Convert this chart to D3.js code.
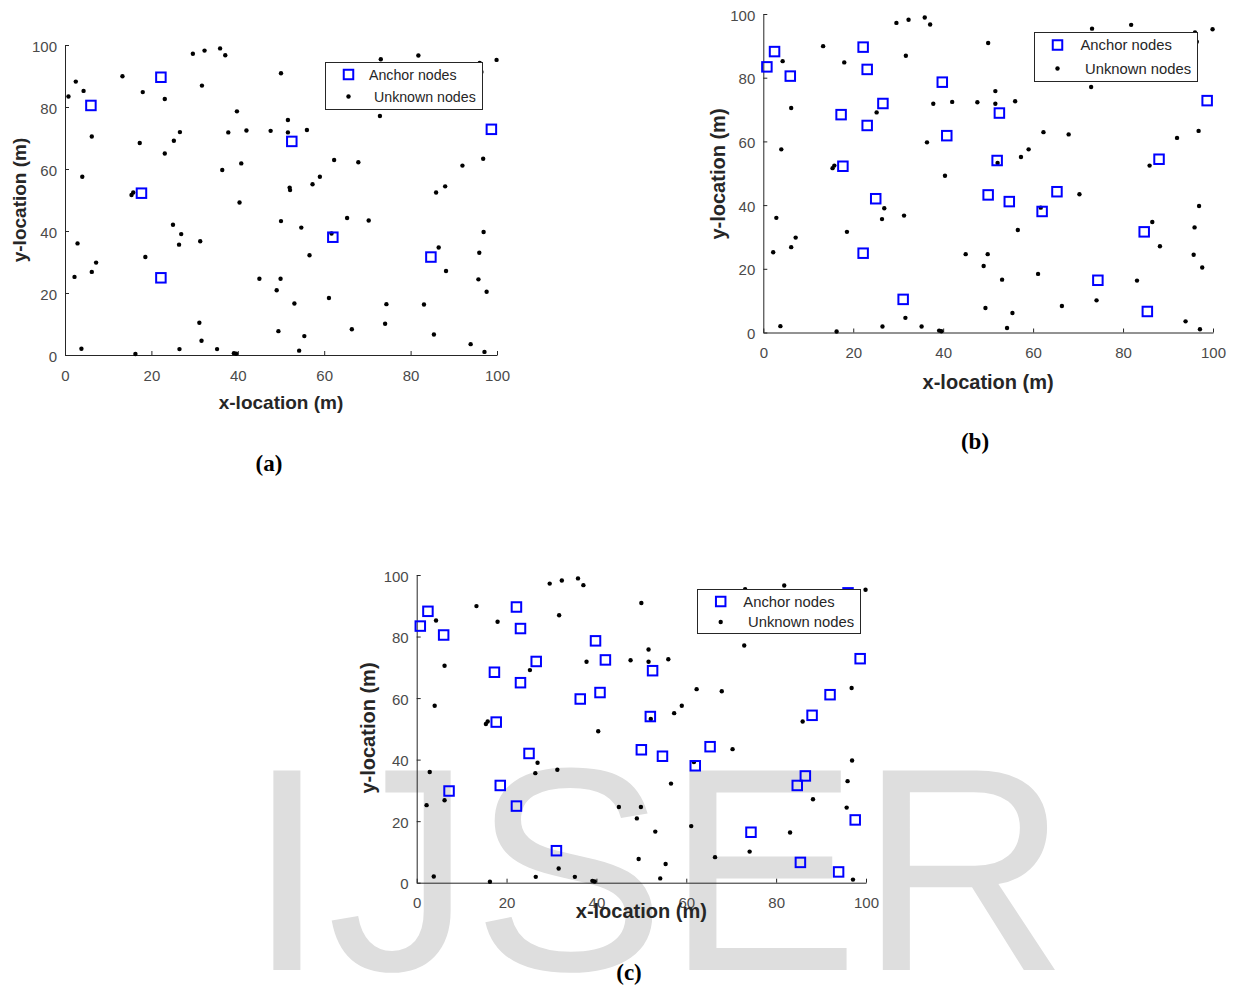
<!DOCTYPE html>
<html>
<head>
<meta charset="utf-8">
<script src="https://cdn.jsdelivr.net/npm/d3@7"></script>
<style>
  html, body { margin: 0; padding: 0; background: #ffffff; }
  svg { display: block; }
</style>
</head>
<body>
<svg id="fig" width="1233" height="989"></svg>
<script>
// Node positions in metres, [x, y].
// Anchors present in every deployment.
const baseAnchors = [
  [6.0, 80.5], [22.2, 89.6], [17.7, 52.2], [22.2, 24.9],
  [52.5, 68.9], [62.0, 38.0], [84.7, 31.6], [98.7, 72.8]
];
// Nodes promoted to anchors from deployment (b) onward.
const addedAnchorsB = [
  [0.8, 83.4], [2.5, 88.2], [23.1, 82.6], [26.6, 71.9], [17.3, 68.4],
  [23.1, 65.0], [39.8, 78.6], [40.8, 61.8], [25.0, 42.0], [31.1, 10.4],
  [52.0, 54.0], [50.0, 43.2], [54.7, 41.1], [65.3, 44.2], [88.0, 54.4],
  [74.4, 16.4], [85.4, 6.6]
];
// Nodes promoted to anchors only in deployment (c).
const addedAnchorsC = [
  [42.0, 72.4], [36.4, 59.7], [18.6, 31.6], [7.2, 29.8], [92.0, 61.1],
  [86.5, 34.7], [93.9, 3.5], [97.6, 20.4], [96.0, 94.2]
];
// Nodes that stay unknown in all deployments.
const unknownNodes = [
  [4.3, 85.2], [6.2, 70.5], [4.0, 57.5], [2.9, 36.0], [2.2, 25.2],
  [6.2, 26.8], [3.8, 2.0], [13.3, 89.9], [18.0, 84.8], [15.4, 51.6],
  [15.8, 52.4], [16.3, 0.3], [25.2, 69.1], [26.9, 39.0], [26.4, 35.6],
  [26.5, 1.9], [29.6, 97.2], [32.3, 98.2], [35.9, 98.9], [37.1, 96.7],
  [31.7, 86.9], [31.3, 36.7], [31.6, 4.6], [35.2, 1.9], [39.1, 0.6],
  [39.6, 0.4], [37.8, 71.8], [40.4, 49.2], [45.0, 24.6],
  [50.0, 90.9], [73.1, 95.4], [81.8, 96.6], [99.9, 95.2], [96.4, 91.3],
  [72.9, 77.1], [51.6, 75.8], [47.6, 72.3], [51.6, 71.8], [56.0, 72.6],
  [62.3, 62.9], [67.9, 62.2], [59.0, 57.5], [57.3, 55.1], [52.1, 53.2],
  [70.3, 43.4], [61.7, 39.2], [56.6, 32.2], [49.9, 24.6], [49.0, 20.9],
  [53.1, 16.6], [61.1, 18.4], [83.1, 16.3], [74.1, 10.1], [66.4, 8.3],
  [49.4, 7.7], [55.4, 6.1], [54.2, 1.4], [97.1, 1.0], [96.8, 63.3],
  [85.9, 52.4], [96.9, 39.7], [88.2, 27.1], [95.9, 33.0], [95.7, 24.4]
];

const xTicks = [0, 20, 40, 60, 80, 100];
const yTicks = [0, 20, 40, 60, 80, 100];
const legendLabels = ["Anchor nodes", "Unknown nodes"];
const panelCaptions = ["(a)", "(b)", "(c)"];
const xAxisTitle = "x-location (m)";
const yAxisTitle = "y-location (m)";
const watermarkText = "IJSER";

// Anchor / unknown sets for each deployment.
const panelData = [
  { anchors: baseAnchors,
    unknown: [...addedAnchorsB, ...addedAnchorsC, ...unknownNodes] },
  { anchors: [...baseAnchors, ...addedAnchorsB],
    unknown: [...addedAnchorsC, ...unknownNodes] },
  { anchors: [...baseAnchors, ...addedAnchorsB, ...addedAnchorsC],
    unknown: unknownNodes }
];

// Page layout of each sub-plot.
const layout = [
  { left: 65, right: 497, bottom: 355, top: 45, xTitleSize: 19,
    xTitleY: 409, yTitleX: 26, yTitleCy: 200,
    legend: { x: 325, y: 62, w: 157, h: 47, icon: 348.5, t1: 369, t2: 374, r1: 74.5, r2: 96.5, fs: 14.2 },
    caption: { x: 269, y: 471 } },
  { left: 763.3, right: 1213, bottom: 332.5, top: 14, xTitleSize: 20,
    xTitleY: 389, yTitleX: 725, yTitleCy: 174,
    legend: { x: 1034, y: 32, w: 163, h: 49, icon: 1057.5, t1: 1080.5, t2: 1085, r1: 45, r2: 68.5, fs: 14.8 },
    caption: { x: 975, y: 449 } },
  { left: 416.7, right: 866, bottom: 882.7, top: 575, xTitleSize: 20,
    xTitleY: 918, yTitleX: 375, yTitleCy: 728,
    legend: { x: 697, y: 589, w: 163, h: 44, icon: 720.7, t1: 743.3, t2: 748, r1: 601.5, r2: 622, fs: 14.8 },
    caption: { x: 629, y: 980 } }
];

const AXIS_COLOR = "#262626";
const TICK_TEXT = "#4a4a4a";
const ANCHOR_BLUE = "#0000ff";
const SANS = "'Liberation Sans', Arial, sans-serif";

const svg = d3.select("#fig");

// Light background lettering behind the last sub-plot.
svg.append("text")
  .attr("x", 246.6)
  .attr("y", 970)
  .attr("font-family", SANS)
  .attr("font-size", 290)
  .attr("fill", "#dedede")
  .text(watermarkText);

const SQ = 9.5;  // anchor marker side

panelData.forEach((pd, i) => {
  const L = layout[i];
  const x = d3.scaleLinear().domain([0, 100]).range([L.left, L.right]);
  const y = d3.scaleLinear().domain([0, 100]).range([L.bottom, L.top]);
  const g = svg.append("g");

  // Axes with inward ticks
  const xAxis = d3.axisBottom(x).tickValues(xTicks).tickSizeInner(-4).tickSizeOuter(0).tickPadding(15);
  const yAxis = d3.axisLeft(y).tickValues(yTicks).tickSizeInner(-4).tickSizeOuter(0).tickPadding(8);

  const gx = g.append("g").attr("transform", `translate(0,${L.bottom})`).call(xAxis);
  const gy = g.append("g").attr("transform", `translate(${L.left},0)`).call(yAxis);
  [gx, gy].forEach(ax => {
    ax.select(".domain").attr("stroke", AXIS_COLOR).attr("stroke-width", 1);
    ax.selectAll(".tick line").attr("stroke", AXIS_COLOR).attr("stroke-width", 1);
    ax.selectAll(".tick text")
      .attr("fill", TICK_TEXT)
      .attr("font-family", SANS)
      .attr("font-size", 15);
  });
  gy.selectAll(".tick text").attr("dy", "0.4em");

  // Unknown nodes
  g.append("g").selectAll("circle")
    .data(pd.unknown)
    .join("circle")
    .attr("cx", d => x(d[0]))
    .attr("cy", d => y(d[1]))
    .attr("r", 2.2)
    .attr("fill", "#000000");

  // Anchor nodes
  g.append("g").selectAll("rect")
    .data(pd.anchors)
    .join("rect")
    .attr("x", d => x(d[0]) - SQ / 2)
    .attr("y", d => y(d[1]) - SQ / 2)
    .attr("width", SQ)
    .attr("height", SQ)
    .attr("fill", "none")
    .attr("stroke", ANCHOR_BLUE)
    .attr("stroke-width", 2);

  // Axis titles
  g.append("text")
    .attr("x", (L.left + L.right) / 2)
    .attr("y", L.xTitleY)
    .attr("text-anchor", "middle")
    .attr("font-family", SANS)
    .attr("font-weight", "bold")
    .attr("font-size", L.xTitleSize)
    .attr("fill", AXIS_COLOR)
    .text(xAxisTitle);

  g.append("text")
    .attr("transform", `translate(${L.yTitleX},${L.yTitleCy}) rotate(-90)`)
    .attr("text-anchor", "middle")
    .attr("font-family", SANS)
    .attr("font-weight", "bold")
    .attr("font-size", L.xTitleSize)
    .attr("fill", AXIS_COLOR)
    .text(yAxisTitle);

  // Legend
  const lg = L.legend;
  const leg = g.append("g");
  leg.append("rect")
    .attr("x", lg.x + 0.5).attr("y", lg.y + 0.5)
    .attr("width", lg.w).attr("height", lg.h)
    .attr("fill", "#ffffff")
    .attr("stroke", AXIS_COLOR)
    .attr("stroke-width", 1);
  leg.append("rect")
    .attr("x", lg.icon - SQ / 2).attr("y", lg.r1 - SQ / 2)
    .attr("width", SQ).attr("height", SQ)
    .attr("fill", "none").attr("stroke", ANCHOR_BLUE).attr("stroke-width", 2);
  leg.append("circle")
    .attr("cx", lg.icon).attr("cy", lg.r2)
    .attr("r", 2.2).attr("fill", "#000000");
  [[lg.t1, lg.r1], [lg.t2, lg.r2]].forEach((p, k) => {
    leg.append("text")
      .attr("x", p[0]).attr("y", p[1])
      .attr("dy", "0.36em")
      .attr("font-family", SANS)
      .attr("font-size", lg.fs)
      .attr("fill", AXIS_COLOR)
      .text(legendLabels[k]);
  });

  // Sub-figure caption
  svg.append("text")
    .attr("x", L.caption.x)
    .attr("y", L.caption.y)
    .attr("text-anchor", "middle")
    .attr("font-family", "'Liberation Serif', 'DejaVu Serif', serif")
    .attr("font-weight", "bold")
    .attr("font-size", 23)
    .attr("fill", "#000000")
    .text(panelCaptions[i]);
});
</script>
</body>
</html>
